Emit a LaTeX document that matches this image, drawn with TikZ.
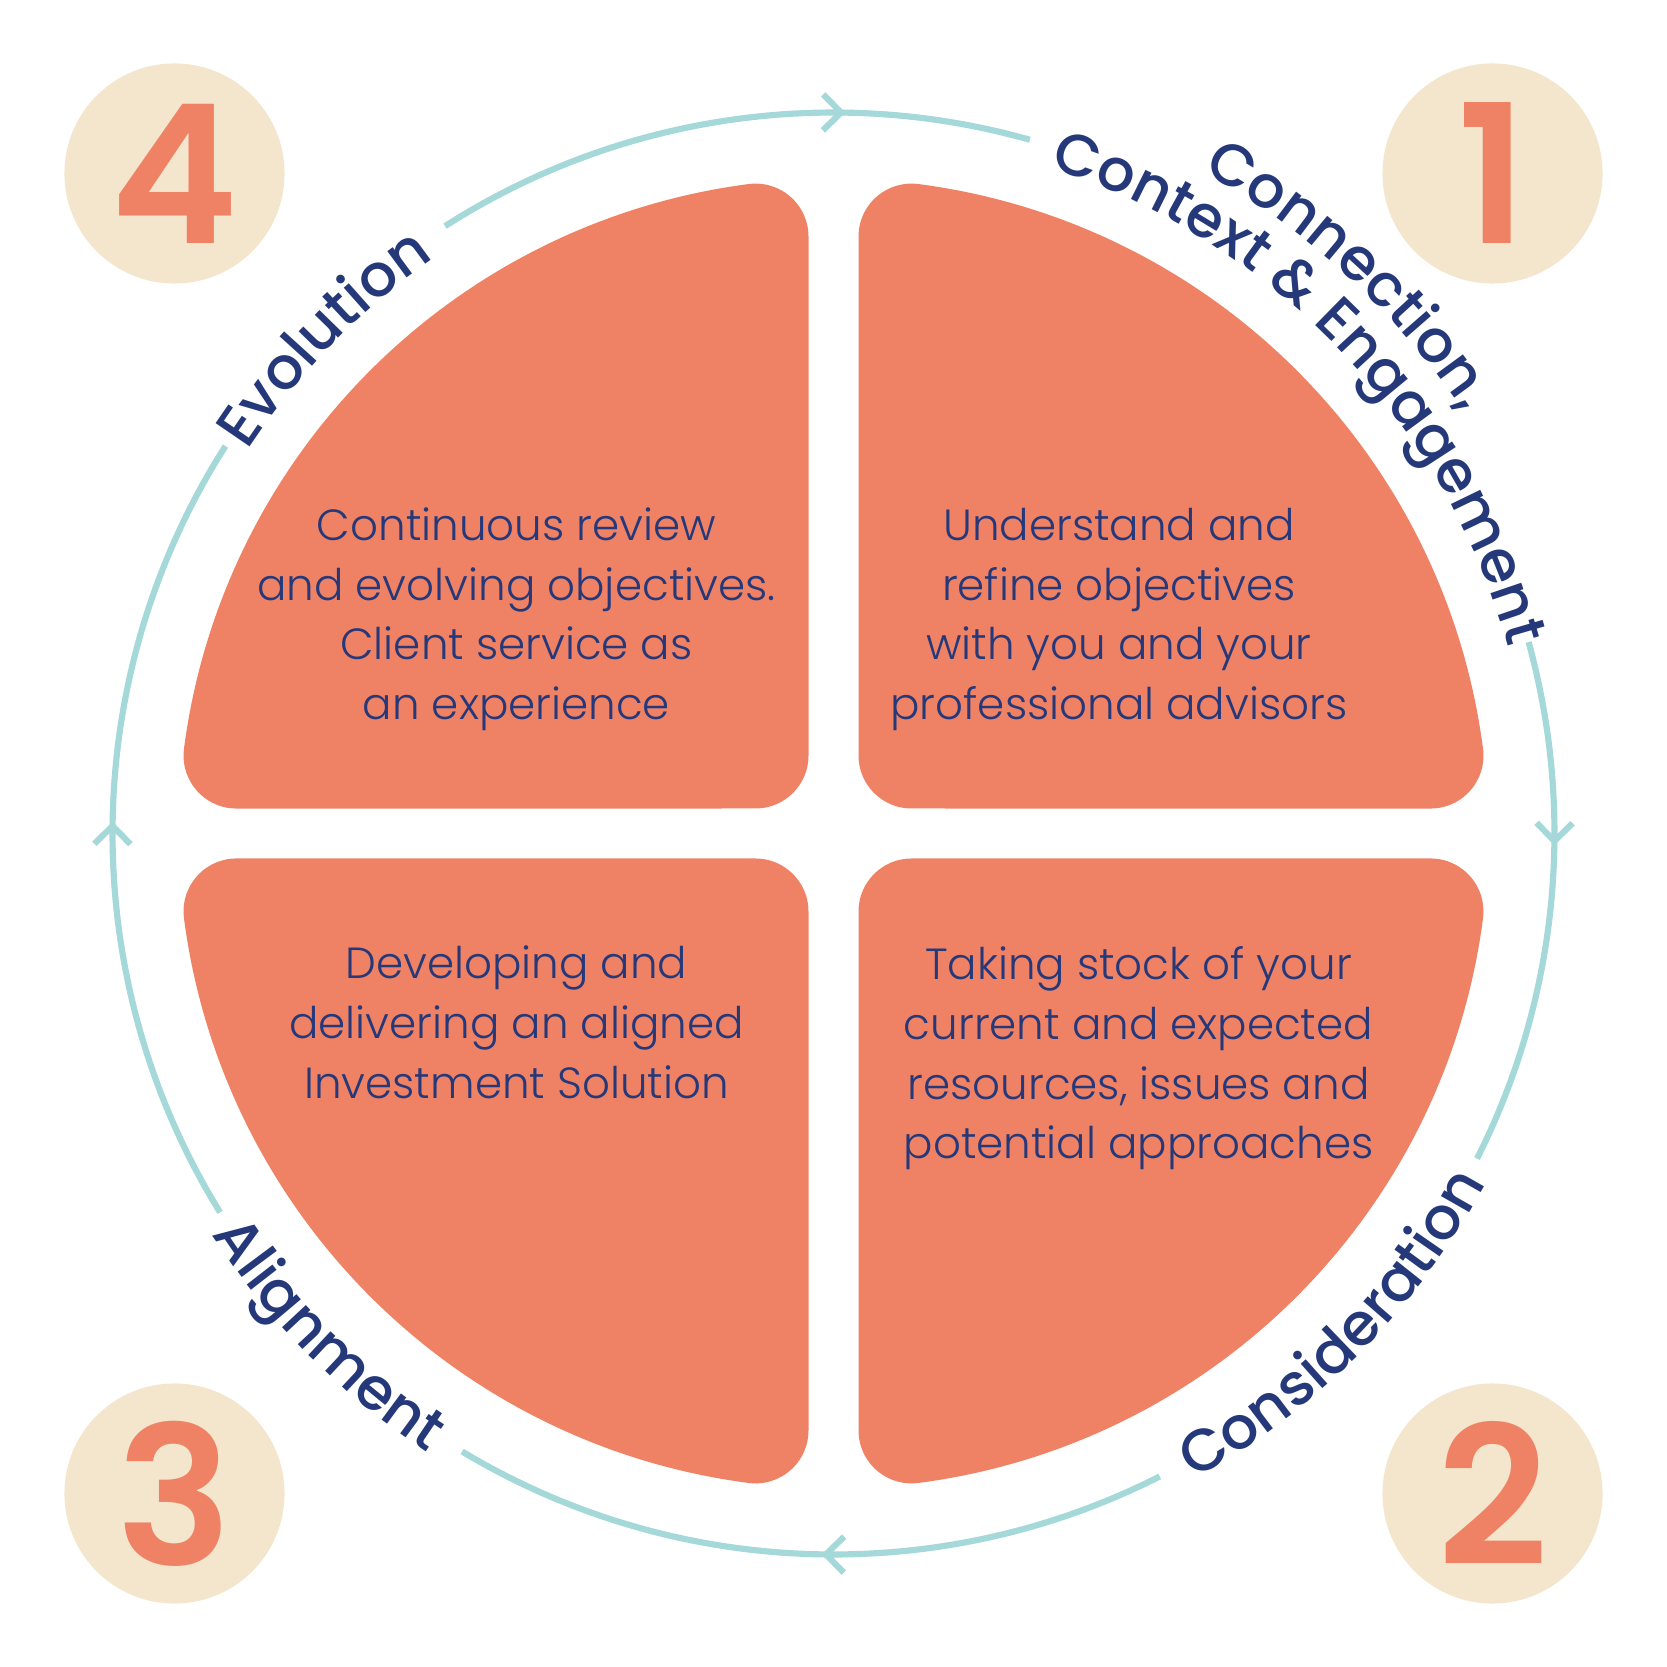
\documentclass[tikz,border=0pt]{standalone}
\usepackage{fontspec}
\usetikzlibrary{decorations.text}
\IfFontExistsTF{Poppins Light}{\newfontfamily\bodyfont{Poppins Light}}{\newfontfamily\bodyfont{Poppins}}
\IfFontExistsTF{Poppins Medium}{\newfontfamily\labelfont{Poppins Medium}}{\newfontfamily\labelfont{Poppins}}
\IfFontExistsTF{Poppins SemiBold}{\newfontfamily\numfont{Poppins SemiBold}}{\newfontfamily\numfont{Poppins}[FakeBold=2]}
\definecolor{salmon}{HTML}{EF8264}
\definecolor{navy}{HTML}{24387A}
\definecolor{ringcol}{HTML}{A4D8D9}
\definecolor{beige}{HTML}{F3E6CC}
\newcommand\qpiece{\fill[salmon] (25,78) -- (25,596.9) arc[start angle=180,end angle=82.56,radius=53] arc[start angle=82.56,end angle=7.44,radius=655] arc[start angle=7.44,end angle=-90,radius=53] -- (78,25) arc[start angle=-90,end angle=-180,radius=53] -- cycle;}
\newcommand\chev[1]{\draw[ring,rotate=#1] (703,18) -- (721,0) -- (739,18);}
\newcommand\lbl{\labelfont\fontsize{16.8}{16.8}\selectfont\color{navy}}
\tikzset{
  ring/.style={draw=ringcol,line width=1.75pt},
  numcirc/.style={circle,fill=beige,minimum size=2.2cm,inner sep=0pt,text=salmon,font=\numfont\fontsize{55}{55}\selectfont},
  body/.style={align=center,text=navy,inner sep=0pt,anchor=base,font=\bodyfont\fontsize{12.4}{17}\selectfont},
}
\begin{document}
\begin{tikzpicture}[x=0.01cm,y=0.01cm]
\useasboundingbox (-833.5,-833.5) rectangle (833.5,833.5);
\fill[white] (-833.5,-833.5) rectangle (833.5,833.5);
% ring arcs
\draw[ring] (74.2:721) arc[start angle=74.2,end angle=122.6,radius=721];
\draw[ring] (147.5:721) arc[start angle=147.5,end angle=211.7,radius=721];
\draw[ring] (239:721) arc[start angle=239,end angle=296.9,radius=721];
\draw[ring] (-26.8:721) arc[start angle=-26.8,end angle=15.4,radius=721];
\chev{89.4}
\chev{-0.6}
\chev{269.4}
\chev{179.4}
% quadrant pieces
\qpiece
\begin{scope}[xscale=-1]\qpiece\end{scope}
\begin{scope}[yscale=-1]\qpiece\end{scope}
\begin{scope}[xscale=-1,yscale=-1]\qpiece\end{scope}
% number circles
\node[numcirc] (n1) at (659,660) {1};
\node[numcirc] (n2) at (659,-660) {2};
\node[numcirc] (n3) at (-659,-660) {3};
\node[numcirc] (n4) at (-659,660) {4};
% body texts (anchor = baseline of last line)
\node[body] (t4) at (-317,113.8) {Continuous review\\and evolving objectives.\\Client service as\\an experience};
\node[body] (t1) at (285.5,113.8) {Understand and\\refine objectives\\with you and your\\professional advisors};
\node[body] (t3) at (-317,-264.7) {Developing and\\delivering an aligned\\Investment Solution};
\node[body] (t2) at (305,-325.3) {Taking stock of your\\current and expected\\resources, issues and\\potential approaches};
% curved labels
\path[decorate,decoration={text along path,text align=center,text={|\lbl|Evolution}}] (160:700) arc[start angle=160,end angle=111.6,radius=700];
\path[decorate,decoration={text along path,text align=center,text={|\lbl|Connection,}}] (80:758) arc[start angle=80,end angle=14.6,radius=758];
\path[decorate,decoration={text along path,text align=center,text={|\lbl|Context {\&} Engagement}}] (82:700) arc[start angle=82,end angle=5.5,radius=700];
\path[decorate,decoration={text along path,text align=center,text={|\lbl|Consideration}}] (-75:740) arc[start angle=-75,end angle=-14,radius=740];
\path[decorate,decoration={text along path,text align=center,text={|\lbl|Alignment}}] (195:740) arc[start angle=195,end angle=254.6,radius=740];
\end{tikzpicture}
\end{document}
